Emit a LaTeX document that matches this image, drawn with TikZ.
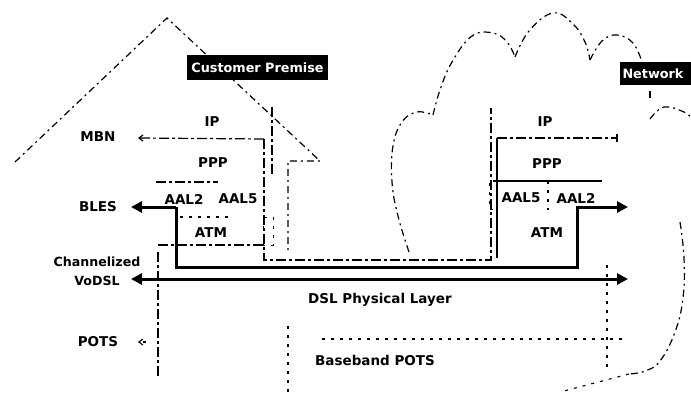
\documentclass[tikz,border=0pt]{standalone}
\usepackage{fontspec}
\setmainfont{DejaVu Sans}
\usetikzlibrary{arrows.meta}
\begin{document}
\begin{tikzpicture}[x=1pt,y=-1pt,
  lbl/.style={font=\bfseries\fontsize{13.5}{16}\selectfont, inner sep=0pt, align=center},
  tag/.style={fill=black, text=white, font=\bfseries\fontsize{12.8}{14}\selectfont, inner sep=0pt},
  outline/.style={line width=1.2pt, dash pattern=on 7pt off 4pt on 2pt off 4pt},
  layer/.style={line width=1.2pt, dash pattern=on 10pt off 3pt on 3pt off 3pt},
  sparse/.style={line width=1.1pt, dash pattern=on 3pt off 6pt},
  firm/.style={line width=1.3pt},
  carrier/.style={line width=3pt},
  bigtip/.style={-{Triangle[length=11pt,width=11pt]}},
  smalltip/.style={-{Straight Barb[length=4pt,width=6pt]}},
]
\useasboundingbox (0,0) rectangle (691,392);

% ---- house (customer premise) ----
\coordinate (eaveL) at (15,162);
\coordinate (apex) at (167,18);
\coordinate (eaveR) at (320,161);
\coordinate (wallTop) at (288,161);
\coordinate (wallBot) at (288,253);
\draw[outline] (eaveL) -- (apex) -- (eaveR) -- (wallTop) -- (wallBot);
\coordinate (wallLow1) at (288,326);
\coordinate (wallLow2) at (288,392);
\draw[sparse] (wallLow1) -- (wallLow2);
\coordinate (wallLtop) at (158,252);
\coordinate (wallLbot) at (158,377);
\draw[layer] (wallLtop) -- (wallLbot);
\coordinate (postT) at (272,107);
\coordinate (postB) at (272,176);
\draw[layer] (postT) -- (postB);

% ---- cloud (network) ----
\draw[outline] plot[smooth, tension=0.7] coordinates {(409,252) (398,216) (392,182) (393,146) (402,122) (417,112) (433,115)};
\draw[outline] plot[smooth, tension=0.7] coordinates {(433,115) (440,90) (452,62) (472,36) (493,33) (507,42) (515,57)};
\draw[outline] plot[smooth, tension=0.7] coordinates {(515,57) (529,31) (553,13) (573,24) (585,42) (590,60)};
\draw[outline] plot[smooth, tension=0.7] coordinates {(590,60) (602,41) (617,35) (633,43) (642,62)};
\draw[outline] (650,91) -- (650,101);
\draw[outline] plot[smooth, tension=0.7] coordinates {(650,119) (664,107) (684,112) (691,118)};
\draw[outline] plot[smooth, tension=0.7] coordinates {(680,222) (684,258) (683,298) (675,332) (660,361) (645,371) (629,374)};
\draw[sparse] (629,374) -- (560,392);
\coordinate (potsEdgeT) at (607,265);
\coordinate (potsEdgeB) at (607,368);
\draw[sparse] (potsEdgeT) -- (potsEdgeB);

% ---- labels ----
\node[tag, minimum width=141pt, minimum height=25pt] (cpe) at (257.5,67.5) {Customer Premise};
\node[tag, minimum width=72pt, minimum height=23pt, text width=67pt, align=left] (net) at (656,73.5) {Network};

\node[lbl] (mbn) at (98,137) {MBN};
\node[lbl] (bles) at (98,207) {BLES};
\node[lbl, font=\bfseries\fontsize{12.6}{19}\selectfont] (vodsl) at (97,271) {Channelized\\VoDSL};
\node[lbl] (pots) at (98,342) {POTS};

\node[lbl] (ipL) at (212,122) {IP};
\node[lbl] (pppL) at (213,163) {PPP};
\node[lbl] (aal2L) at (184,199) {AAL2};
\node[lbl] (aal5L) at (238,199) {AAL5};
\node[lbl] (atmL) at (211,233) {ATM};

\node[lbl] (ipR) at (545,122) {IP};
\node[lbl] (pppR) at (547,164) {PPP};
\node[lbl] (aal5R) at (521,198) {AAL5};
\node[lbl] (aal2R) at (576,198) {AAL2};
\node[lbl] (atmR) at (547,233) {ATM};

\node[lbl] (phy) at (380,300) {DSL Physical Layer};
\node[lbl] (base) at (375,360) {Baseband POTS};

% ---- IP session across the loop ----
\coordinate (mbnTip) at (138,138);
\coordinate (ipCornerL) at (264,139);
\coordinate (ipBotL) at (264,260);
\coordinate (ipBotR) at (491,260);
\coordinate (ipTopR) at (491,108);
\draw[layer, smalltip] (ipCornerL) -- (mbnTip);
\draw[layer] (ipCornerL) -- (ipBotL) -- (ipBotR) -- (ipTopR);

\coordinate (ipRL) at (497,138);
\coordinate (ipRR) at (617,138);
\coordinate (ipRB) at (497,258);
\draw[layer] (ipRL) -- (ipRR);
\draw[firm] (ipRR) ++(0,-4) -- ++(0,8);
\draw[firm] (ipRL) -- (ipRB);

% ---- left stack separators ----
\coordinate (pppLa) at (156,182);
\coordinate (pppLb) at (218,182);
\draw[layer] (pppLa) -- (pppLb);
\coordinate (atmLa) at (180,217);
\coordinate (atmLb) at (232,217);
\draw[sparse] (atmLa) -- (atmLb);
\coordinate (atmLc) at (158,245);
\coordinate (atmLd) at (263,245);
\draw[layer] (atmLc) -- (atmLd);
\draw[sparse, line width=0.9pt] (263,217) rectangle (273,245);

% ---- right stack separators ----
\coordinate (pppRa) at (493,181);
\coordinate (pppRb) at (602,181);
\draw[firm] (pppRa) -- (pppRb);
\coordinate (aalDivT) at (548,181);
\coordinate (aalDivB) at (548,210);
\draw[sparse] (aalDivT) -- (aalDivB);
\draw[sparse, line width=0.9pt] (489,183) rectangle (496,209);

% ---- voice path (BLES) ----
\coordinate (blesTip) at (131,207);
\coordinate (blesA) at (176,207);
\coordinate (blesB) at (176,267);
\coordinate (blesC) at (577,267);
\coordinate (blesD) at (577,207);
\coordinate (netTip) at (628,207);
\draw[carrier, bigtip] (blesA) -- (blesTip);
\draw[carrier, bigtip] (blesA) -- (blesB) -- (blesC) -- (blesD) -- (netTip);

% ---- channelized VoDSL ----
\coordinate (vodslL) at (131,279);
\coordinate (vodslR) at (628,279);
\draw[carrier, {Triangle[length=11pt,width=11pt]}-{Triangle[length=11pt,width=11pt]}] (vodslL) -- (vodslR);

% ---- baseband POTS ----
\coordinate (potsTip) at (138,342);
\coordinate (potsTail) at (146,342);
\draw[sparse, smalltip] (potsTail) -- (potsTip);
\coordinate (baseL) at (322,339);
\coordinate (baseR) at (622,339);
\draw[sparse] (baseL) -- (baseR);
\end{tikzpicture}
\end{document}
